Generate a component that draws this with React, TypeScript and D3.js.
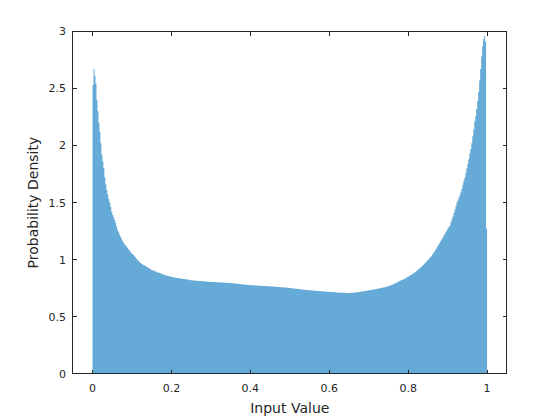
import React from "react";
import * as d3 from "d3";

const binWidth = 0.0025;
const densities: number[] = [
  2.53, 2.67, 2.61, 2.54, 2.40, 2.30, 2.20, 2.12, 2.02, 1.92, 1.86, 1.80, 1.72, 1.66, 1.61, 1.57, 1.53, 1.50, 1.46, 1.42,
  1.39, 1.37, 1.35, 1.32, 1.29, 1.26, 1.24, 1.22, 1.20, 1.18, 1.165, 1.15, 1.135, 1.125, 1.115, 1.105, 1.09, 1.08, 1.07, 1.055,
  1.05, 1.04, 1.03, 1.02, 1.01, 1.00, 0.99, 0.982, 0.973, 0.966, 0.96, 0.953, 0.95, 0.945, 0.94, 0.935, 0.93, 0.925, 0.918, 0.912,
  0.908, 0.905, 0.902, 0.898, 0.893, 0.89, 0.888, 0.885, 0.882, 0.878, 0.875, 0.872, 0.868, 0.866, 0.862, 0.86, 0.857, 0.855, 0.852, 0.85,
  0.848, 0.846, 0.845, 0.843, 0.842, 0.84, 0.839, 0.838, 0.836, 0.835, 0.833, 0.832, 0.83, 0.83, 0.828, 0.826, 0.825, 0.823, 0.822, 0.82,
  0.82, 0.818, 0.818, 0.817, 0.815, 0.814, 0.814, 0.813, 0.813, 0.812, 0.812, 0.811, 0.81, 0.81, 0.809, 0.808, 0.808, 0.807, 0.806, 0.806,
  0.805, 0.805, 0.804, 0.804, 0.803, 0.802, 0.802, 0.801, 0.8, 0.8, 0.8, 0.799, 0.799, 0.798, 0.798, 0.797, 0.797, 0.796, 0.796, 0.795,
  0.795, 0.794, 0.793, 0.792, 0.791, 0.79, 0.789, 0.788, 0.787, 0.786, 0.785, 0.784, 0.783, 0.782, 0.781, 0.78, 0.779, 0.778, 0.777, 0.776,
  0.776, 0.776, 0.775, 0.775, 0.774, 0.774, 0.773, 0.773, 0.772, 0.772, 0.771, 0.771, 0.77, 0.77, 0.769, 0.769, 0.768, 0.767, 0.767, 0.766,
  0.766, 0.765, 0.765, 0.764, 0.763, 0.763, 0.762, 0.761, 0.761, 0.76, 0.759, 0.759, 0.758, 0.757, 0.756, 0.756, 0.755, 0.754, 0.753, 0.752,
  0.751, 0.75, 0.749, 0.748, 0.747, 0.746, 0.745, 0.744, 0.743, 0.742, 0.741, 0.74, 0.739, 0.738, 0.737, 0.736, 0.735, 0.734, 0.733, 0.732,
  0.731, 0.73, 0.729, 0.729, 0.728, 0.727, 0.727, 0.726, 0.725, 0.725, 0.724, 0.723, 0.723, 0.722, 0.721, 0.721, 0.72, 0.719, 0.719, 0.718,
  0.717, 0.717, 0.716, 0.716, 0.715, 0.714, 0.714, 0.713, 0.713, 0.712, 0.711, 0.711, 0.71, 0.71, 0.709, 0.709, 0.708, 0.708, 0.707, 0.707,
  0.707, 0.708, 0.709, 0.71, 0.711, 0.712, 0.713, 0.714, 0.715, 0.716, 0.717, 0.718, 0.72, 0.721, 0.722, 0.724, 0.725, 0.727, 0.728, 0.73,
  0.732, 0.733, 0.735, 0.736, 0.738, 0.739, 0.741, 0.742, 0.744, 0.745, 0.747, 0.749, 0.751, 0.753, 0.755, 0.757, 0.759, 0.761, 0.764, 0.766,
  0.769, 0.772, 0.775, 0.779, 0.783, 0.787, 0.791, 0.795, 0.8, 0.805, 0.809, 0.813, 0.817, 0.821, 0.825, 0.829, 0.833, 0.838, 0.843, 0.848,
  0.852, 0.858, 0.864, 0.869, 0.874, 0.88, 0.887, 0.894, 0.901, 0.908, 0.915, 0.922, 0.93, 0.938, 0.946, 0.955, 0.964, 0.973, 0.982, 0.992,
  1.0, 1.01, 1.02, 1.03, 1.045, 1.057, 1.07, 1.083, 1.097, 1.11, 1.125, 1.14, 1.155, 1.17, 1.185, 1.2, 1.215, 1.23, 1.245, 1.26,
  1.275, 1.29, 1.30, 1.33, 1.355, 1.38, 1.41, 1.44, 1.47, 1.50, 1.52, 1.545, 1.565, 1.59, 1.62, 1.655, 1.69, 1.72, 1.76, 1.80,
  1.84, 1.88, 1.93, 1.97, 2.02, 2.08, 2.14, 2.21, 2.26, 2.32, 2.39, 2.47, 2.57, 2.67, 2.78, 2.87, 2.93, 2.96, 2.91, 1.27,
];
const xTicks = [0, 0.2, 0.4, 0.6, 0.8, 1];
const yTicks = [0, 0.5, 1, 1.5, 2, 2.5, 3];
const xLabel = "Input Value";
const yLabel = "Probability Density";

const W = 560;
const H = 420;
const left = 72.8;
const right = 506.8;
const top = 31.3;
const bottom = 373.8;
const tickLen = 4.3;
const axisColor = "#262626";
const font = "'DejaVu Sans', sans-serif";

export default function App() {
  const x = d3.scaleLinear().domain([-0.05, 1.05]).range([left, right]);
  const y = d3.scaleLinear().domain([0, 3]).range([bottom, top]);

  const pts: [number, number][] = densities.map((d, i) => [i * binWidth, d]);
  pts.push([densities.length * binWidth, densities[densities.length - 1]]);
  const area = d3
    .area<[number, number]>()
    .x((p) => x(p[0]))
    .y0(y(0))
    .y1((p) => y(p[1]))
    .curve(d3.curveStepAfter);

  return (
    <svg
      width={W}
      height={H}
      style={{ position: "absolute", left: 0, top: 0, background: "#fff" }}
    >
      <rect x={0} y={0} width={W} height={H} fill="#fff" />
      <path d={area(pts) || ""} fill="#66aad7" stroke="none" />
      <g stroke={axisColor} strokeWidth={1} fill="none" shapeRendering="crispEdges">
        <rect x={left} y={top} width={right - left} height={bottom - top} />
        {xTicks.map((t) => (
          <g key={"xt" + t}>
            <line x1={x(t)} x2={x(t)} y1={bottom} y2={bottom - tickLen} />
            <line x1={x(t)} x2={x(t)} y1={top} y2={top + tickLen} />
          </g>
        ))}
        {yTicks.map((t) => (
          <g key={"yt" + t}>
            <line x1={left} x2={left + tickLen} y1={y(t)} y2={y(t)} />
            <line x1={right} x2={right - tickLen} y1={y(t)} y2={y(t)} />
          </g>
        ))}
      </g>
      <g fill={axisColor} fontFamily={font} fontSize={11}>
        {xTicks.map((t) => (
          <text key={"xl" + t} x={x(t)} y={392} textAnchor="middle">
            {d3.format("~g")(t)}
          </text>
        ))}
        {yTicks.map((t) => (
          <text key={"yl" + t} x={66} y={y(t) + 4} textAnchor="end">
            {d3.format("~g")(t)}
          </text>
        ))}
      </g>
      <text
        x={(left + right) / 2}
        y={413}
        textAnchor="middle"
        fontFamily={font}
        fontSize={14}
        fill={axisColor}
      >
        {xLabel}
      </text>
      <text
        transform={`translate(38, ${(top + bottom) / 2}) rotate(-90)`}
        textAnchor="middle"
        fontFamily={font}
        fontSize={14}
        fill={axisColor}
      >
        {yLabel}
      </text>
    </svg>
  );
}
